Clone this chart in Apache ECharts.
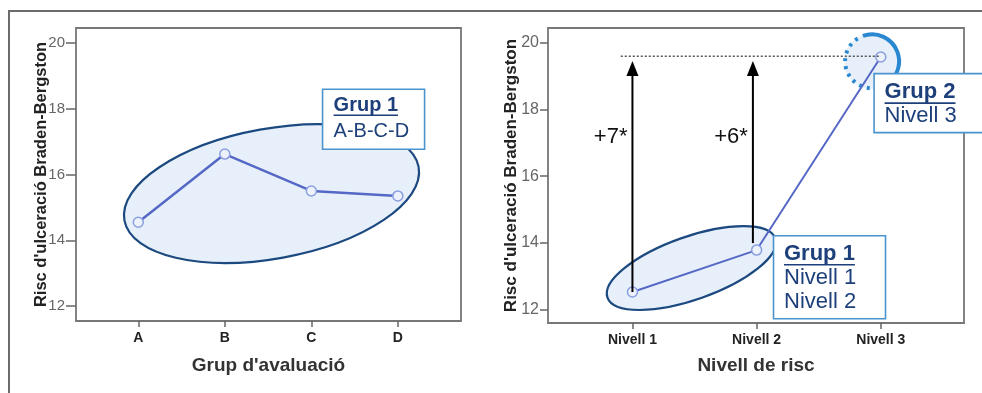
<!DOCTYPE html>
<html>
<head>
<meta charset="utf-8">
<script src="https://cdn.jsdelivr.net/npm/echarts@6/dist/echarts.min.js"></script>
<style>
html,body{margin:0;padding:0;background:#fff;}
#c{width:982px;height:393px;}
</style>
</head>
<body>
<div id="c"></div>
<script>
// ---- data ----
const groupsA = ['A', 'B', 'C', 'D'];
const scoresA = [14.55, 16.62, 15.50, 15.35];
const levelsB = ['Nivell 1', 'Nivell 2', 'Nivell 3'];
const scoresB = [12.52, 13.78, 19.58];
const yTicks = [12, 14, 16, 18, 20];
const yName = "Risc d'ulceració Braden-Bergston";
const xNameA = "Grup d'avaluació";
const xNameB = 'Nivell de risc';
const diffLabels = ['+7*', '+6*'];
const boxA = ['Grup 1', 'A-B-C-D'];
const boxB1 = ['Grup 1', 'Nivell 1', 'Nivell 2'];
const boxB2 = ['Grup 2', 'Nivell 3'];

const FONT = '"Liberation Sans", Arial, sans-serif';
const chart = echarts.init(document.getElementById('c'), null, {renderer: 'canvas'});

function xAxisCfg(grid, min, max, names, fs) {
  return {
    type: 'value', gridIndex: grid, min: min, max: max,
    splitLine: {show: false},
    axisLine: {show: false, onZero: false},
    axisTick: {show: true, customValues: names.map((_, i) => i), length: 6, lineStyle: {color: '#666', width: 1.5}},
    axisLabel: {customValues: names.map((_, i) => i), formatter: v => names[Math.round(v)] || '',
      fontFamily: FONT, fontWeight: 'bold', fontSize: fs, color: '#222', margin: 10},
    nameLocation: 'middle', nameMoveOverlap: false,
    nameTextStyle: {fontFamily: FONT, fontWeight: 'bold', fontSize: 19, color: '#333'}
  };
}
function yAxisCfg(grid, min, max, fs, tl, gap, nfs) {
  return {
    type: 'value', gridIndex: grid, min: min, max: max,
    splitLine: {show: false},
    axisLine: {show: false, onZero: false},
    axisTick: {show: true, customValues: yTicks, length: tl, lineStyle: {color: '#666', width: 1.5}},
    axisLabel: {customValues: yTicks, fontFamily: FONT, fontSize: fs, color: '#666', margin: tl + 1},
    name: yName, nameLocation: 'middle', nameGap: gap, nameMoveOverlap: false,
    nameTextStyle: {fontFamily: FONT, fontWeight: 'bold', fontSize: nfs, color: '#222'}
  };
}

const xa = xAxisCfg(0, -0.72, 3.73, groupsA, 14); xa.name = xNameA; xa.nameGap = 35;
const xb = xAxisCfg(1, -0.68, 2.67, levelsB, 14); xb.name = xNameB; xb.nameGap = 33;

const lineStyleCommon = {
  type: 'line', symbol: 'circle', symbolSize: 10, z: 3,
  itemStyle: {color: '#edf1fb', borderColor: '#8a9ee0', borderWidth: 1.5},
};

chart.setOption({
  animation: false,
  grid: [
    {left: 76, top: 28, width: 385, height: 293, show: true, borderColor: '#777', borderWidth: 1.8, backgroundColor: 'transparent'},
    {left: 548, top: 28, width: 416, height: 295, show: true, borderColor: '#777', borderWidth: 1.8, backgroundColor: 'transparent'}
  ],
  xAxis: [xa, xb],
  yAxis: [yAxisCfg(0, 11.55, 20.45, 15, 10, 26, 16.5), yAxisCfg(1, 11.59, 20.45, 16, 8, 28, 17)],
  series: [
    Object.assign({}, lineStyleCommon, {xAxisIndex: 0, yAxisIndex: 0,
      data: scoresA.map((v, i) => [i, v]), lineStyle: {color: '#5668c6', width: 2.5}}),
    Object.assign({}, lineStyleCommon, {xAxisIndex: 1, yAxisIndex: 1,
      data: scoresB.map((v, i) => [i, v]), lineStyle: {color: '#5668c6', width: 2}})
  ]
});

// ---- annotations (placed through the axes' scales) ----
const P = (g, x, y) => chart.convertToPixel({gridIndex: g}, [x, y]);
const mctx = document.createElement('canvas').getContext('2d');
function tw(text, size, bold) { mctx.font = (bold ? 'bold ' : '') + size + 'px ' + FONT; return mctx.measureText(text).width; }

const G = [];
const TXT = '#1d3f7a', BOXC = '#4b93cd', ELL_FILL = '#e7f0fa', ELL_STROKE = '#1c4a80';

// outer frame
G.push({type: 'polyline', shape: {points: [[9, 393], [9, 11], [982, 11]]}, style: {stroke: '#6b6b6b', lineWidth: 2, fill: null}, z: 1});

function ellipse(g, cx, cy, rx, ry, deg) {
  const c = P(g, cx, cy);
  G.push({type: 'ellipse', x: c[0], y: c[1], rotation: deg * Math.PI / 180,
    shape: {cx: 0, cy: 0, rx: rx, ry: ry}, style: {fill: ELL_FILL, stroke: ELL_STROKE, lineWidth: 2.2}, z: 1});
}
ellipse(0, 1.54, 15.42, 149.5, 65, 10.3);
ellipse(1, 0.475, 13.24, 89, 31.5, 19.4);

// Grup 2 circle
(function () {
  const c = P(1, 1.93, 19.45);
  G.push({type: 'circle', shape: {cx: c[0], cy: c[1], r: 28}, style: {fill: ELL_FILL, stroke: null}, z: 1});
  G.push({type: 'arc', shape: {cx: c[0], cy: c[1], r: 27, startAngle: -110 * Math.PI / 180, endAngle: 45 * Math.PI / 180, clockwise: true},
    style: {stroke: '#2a88d0', lineWidth: 4, fill: null}, z: 2});
  G.push({type: 'arc', shape: {cx: c[0], cy: c[1], r: 27, startAngle: 95 * Math.PI / 180, endAngle: 246 * Math.PI / 180, clockwise: true},
    style: {stroke: '#2a88d0', lineWidth: 4, fill: null, lineDash: [3, 5]}, z: 2});
})();

// dotted reference line
(function () {
  const a = P(1, -0.094, 19.6), b = P(1, 2, 19.6);
  G.push({type: 'line', shape: {x1: a[0], y1: a[1], x2: b[0], y2: b[1]}, style: {stroke: '#555', lineWidth: 1.5, lineDash: [2, 2]}, z: 5});
})();

// arrows
function arrow(x, y0, y1, label) {
  const a = P(1, x, y0), b = P(1, x, y1);
  const h = 15, w = 6;
  G.push({type: 'line', shape: {x1: a[0], y1: a[1], x2: b[0], y2: b[1] + h - 1}, style: {stroke: '#000', lineWidth: 2}, z: 6});
  G.push({type: 'polygon', shape: {points: [[b[0], b[1]], [b[0] - w, b[1] + h], [b[0] + w, b[1] + h]]}, style: {fill: '#000'}, z: 6});
  const t = P(1, x, 17.17);
  G.push({type: 'text', x: t[0] - 5, y: t[1], style: {text: label, fontFamily: FONT, fontSize: 22, fill: '#111', align: 'right', verticalAlign: 'middle'}, z: 6});
}
arrow(0, scoresB[0], 19.46, diffLabels[0]);
arrow(0.97, 13.99, 19.46, diffLabels[1]);

// label boxes
function box(g, x, y, w, h, lines, fs, lh, pad, firstY) {
  const p = P(g, x, y);
  G.push({type: 'rect', shape: {x: p[0], y: p[1], width: w, height: h}, style: {fill: '#fff', stroke: BOXC, lineWidth: 1.6}, z: 10});
  lines.forEach((t, i) => {
    const bold = i === 0;
    const ty = p[1] + firstY + i * lh;
    G.push({type: 'text', x: p[0] + pad, y: ty, style: {text: t, fontFamily: FONT, fontSize: fs, fontWeight: bold ? 'bold' : 'normal', fill: TXT, align: 'left', verticalAlign: 'middle'}, z: 11});
    if (bold) {
      const wd = tw(t, fs, true);
      G.push({type: 'line', shape: {x1: p[0] + pad, y1: ty + fs * 0.5, x2: p[0] + pad + wd, y2: ty + fs * 0.5}, style: {stroke: TXT, lineWidth: 1.6}, z: 11});
    }
  });
}
box(0, 2.13, 18.59, 102, 60, boxA, 20, 26.5, 11, 16);
box(1, 1.136, 14.21, 112, 83, boxB1, 22, 24, 10.5, 18);
box(1, 1.946, 19.08, 120, 59, boxB2, 22, 23.5, 10.5, 18.5);

chart.setOption({graphic: G});
</script>
</body>
</html>
